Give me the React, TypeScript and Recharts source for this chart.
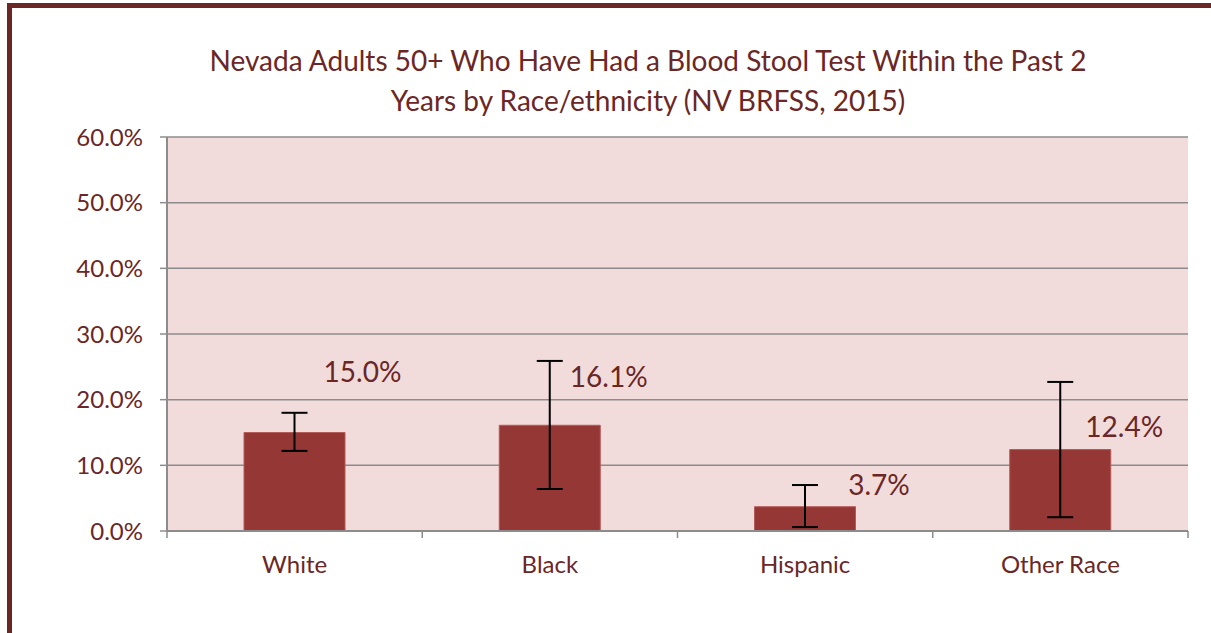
import { BarChart, Bar, XAxis, YAxis, CartesianGrid, ErrorBar, LabelList } from 'recharts'

const categories = ['White', 'Black', 'Hispanic', 'Other Race']
const percents = [15.0, 16.1, 3.7, 12.4]
const ciLow = [12.2, 6.4, 0.6, 2.1]
const ciHigh = [18.0, 25.9, 7.0, 22.7]
const yTicks = [0, 10, 20, 30, 40, 50, 60]

// where Excel dropped each data label, relative to the bar's top centre
const labelShift = [
  { dx: 68, dy: -62 },
  { dx: 59, dy: -49 },
  { dx: 74, dy: -23 },
  { dx: 64, dy: -24 },
]

const data = categories.map((name, i) => ({
  name,
  value: percents[i],
  err: [percents[i] - ciLow[i], ciHigh[i] - percents[i]],
}))

const maroon = '#6b2626'
const gridGray = '#8c8c8c'
const font = 'Lato, "Open Sans", sans-serif'

const W = 1211
const H = 633
const margin = { top: 137, right: 23, bottom: 62, left: 0 }
const yAxisWidth = 167
const band = (W - margin.left - margin.right - yAxisWidth) / categories.length
const xTickMargin = 25

function DataLabel(props: any) {
  const { x, y, width, value, index } = props
  const s = labelShift[index] || { dx: 0, dy: 0 }
  return (
    <text
      x={x + width / 2 + s.dx}
      y={y + s.dy}
      textAnchor="middle"
      dominantBaseline="central"
      fill={maroon}
      fontSize={28}
      fontFamily={font}
    >
      {Number(value).toFixed(1)}%
    </text>
  )
}

// Excel puts the category ticks between the bars, so draw them by hand
function CategoryTick(props: any) {
  const { x, y, payload, index } = props
  const axisY = y - xTickMargin
  const left = x - band / 2
  const right = x + band / 2
  return (
    <g>
      <line x1={left} x2={left} y1={axisY} y2={axisY + 7} stroke={gridGray} strokeWidth={1.5} />
      {index === categories.length - 1 && (
        <line x1={right} x2={right} y1={axisY} y2={axisY + 7} stroke={gridGray} strokeWidth={1.5} />
      )}
      <text x={x} y={y} dy="0.71em" textAnchor="middle" fill={maroon} fontSize={24} fontFamily={font}>
        {payload.value}
      </text>
    </g>
  )
}

export default function App() {
  return (
    <div style={{ position: 'fixed', left: 0, top: 0, width: W, height: H, overflow: 'hidden', background: '#fff' }}>
      <div
        style={{
          position: 'absolute',
          left: 7,
          top: 3,
          width: 1400,
          height: 800,
          border: `5px solid ${maroon}`,
        }}
      />
      <div
        style={{
          position: 'absolute',
          left: 148,
          top: 40,
          width: 1000,
          textAlign: 'center',
          fontFamily: font,
          fontSize: 28,
          lineHeight: '40px',
          color: maroon,
        }}
      >
        Nevada Adults 50+ Who Have Had a Blood Stool Test Within the Past 2
        <br />
        Years by Race/ethnicity (NV BRFSS, 2015)
      </div>
      <div style={{ position: 'absolute', left: 0, top: 0 }}>
        <BarChart width={W} height={H} data={data} margin={margin} barCategoryGap="30%">
          <CartesianGrid vertical={false} fill="#f2dcdb" stroke={gridGray} strokeWidth={1.5} />
          <XAxis
            dataKey="name"
            tickLine={false}
            axisLine={{ stroke: gridGray, strokeWidth: 2 }}
            tickSize={0}
            tickMargin={xTickMargin}
            height={40}
            interval={0}
            tick={<CategoryTick />}
          />
          <YAxis
            domain={[0, 60]}
            ticks={yTicks}
            width={yAxisWidth}
            tickSize={7}
            tickMargin={17}
            tickFormatter={(v: number) => v.toFixed(1) + '%'}
            tickLine={{ stroke: gridGray, strokeWidth: 1.5 }}
            axisLine={{ stroke: gridGray, strokeWidth: 2 }}
            tick={{ fill: maroon, fontSize: 24, fontFamily: font }}
          />
          <Bar dataKey="value" fill="#953735" stroke="#b25a58" strokeWidth={1} barSize={101} isAnimationActive={false}>
            <ErrorBar dataKey="err" width={13} stroke="#000" strokeWidth={2} direction="y" />
            <LabelList dataKey="value" content={<DataLabel />} />
          </Bar>
        </BarChart>
      </div>
    </div>
  )
}
